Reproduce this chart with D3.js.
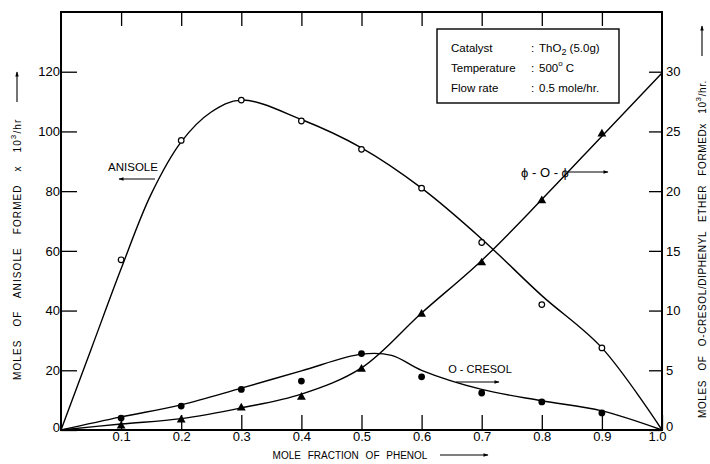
<!DOCTYPE html>
<html>
<head>
<meta charset="utf-8">
<script src="https://cdn.jsdelivr.net/npm/d3@7"></script>
<style>
  body { margin: 0; background: #fff; }
  svg { font-family: "Liberation Sans", Arial, sans-serif; }
</style>
</head>
<body>
<svg id="chart" width="710" height="464"></svg>
<script>
"use strict";

// mole fraction of phenol where points were measured
let fractions = [0.1, 0.2, 0.3, 0.4, 0.5, 0.6, 0.7, 0.8, 0.9];
// anisole (left axis, x10^3/hr)
let anisolePts = [57, 97, 110.5, 103.5, 94, 81, 62.8, 42, 27.5];
// o-cresol and diphenyl ether (right axis, x10^3/hr)
let cresolPts = [1.0, 2.0, 3.4, 4.1, 6.4, 4.45, 3.1, 2.35, 1.43];
let etherPts = [0.33, 0.85, 1.85, 2.75, 5.1, 9.7, 14.0, 19.2, 24.8];

// hand drawn smoothed curves
let anisoleFitX = [0, 0.05, 0.1, 0.15, 0.2, 0.25, 0.3, 0.4, 0.5, 0.6, 0.7, 0.8, 0.9, 1.0];
let anisoleFitY = [0, 27, 54, 79, 96.5, 106.5, 110.5, 104, 94.5, 81, 64, 45, 27.5, 0];
let cresolFitX = [0, 0.1, 0.2, 0.3, 0.4, 0.5, 0.55, 0.6, 0.7, 0.8, 0.9, 1.0];
let cresolFitY = [0, 1.1, 2.1, 3.5, 4.95, 6.35, 6.25, 5.0, 3.4, 2.45, 1.6, 0];
let etherFitX = [0, 0.1, 0.2, 0.3, 0.4, 0.5, 0.6, 0.7, 0.8, 0.9, 1.0];
let etherFitY = [0, 0.5, 0.95, 1.85, 3.0, 5.2, 9.8, 14.2, 19.3, 24.6, 29.9];

let xTicks = [0.1, 0.2, 0.3, 0.4, 0.5, 0.6, 0.7, 0.8, 0.9, 1.0];
let leftTicks = [0, 20, 40, 60, 80, 100, 120];
let rightTicks = [0, 5, 10, 15, 20, 25, 30];

let legendRows = [["Catalyst", ":", "ThO", "2", " (5.0g)"],
                  ["Temperature", ":", "500", "o", " C"],
                  ["Flow rate", ":", "0.5 mole/hr.", "", ""]];

let svg = d3.select("#chart");
let L = 61, R = 662, T = 12, B = 430;

let x = d3.scaleLinear().domain([0, 1]).range([L, R]);
let yL = d3.scaleLinear().domain([0, 140]).range([B, T]);
let yR = d3.scaleLinear().domain([0, 35]).range([B, T]);

svg.append("defs").append("marker")
  .attr("id", "ah").attr("viewBox", "0 0 10 10")
  .attr("refX", 9).attr("refY", 5)
  .attr("markerWidth", 7).attr("markerHeight", 5)
  .attr("markerUnits", "userSpaceOnUse")
  .attr("orient", "auto")
  .append("path").attr("d", "M0,1.5 L10,5 L0,8.5 Z").attr("fill", "#000");

// frame
svg.append("rect")
  .attr("x", L).attr("y", T).attr("width", R - L).attr("height", B - T)
  .attr("fill", "none").attr("stroke", "#000").attr("stroke-width", 2);

// axes, ticks pointing inward
let fontTick = 13;
let gBottom = svg.append("g").attr("transform", `translate(0,${B})`)
  .call(d3.axisBottom(x).tickValues(xTicks).tickSizeInner(-15).tickSizeOuter(0).tickPadding(2)
    .tickFormat(d => d3.format(".1f")(d)));
let gTop = svg.append("g").attr("transform", `translate(0,${T})`)
  .call(d3.axisTop(x).tickValues(xTicks.slice(0, 9)).tickSizeInner(-14).tickSizeOuter(0).tickFormat(""));
let gLeft = svg.append("g").attr("transform", `translate(${L},0)`)
  .call(d3.axisLeft(yL).tickValues(leftTicks).tickSizeInner(-16).tickSizeOuter(0).tickPadding(3));
let gRight = svg.append("g").attr("transform", `translate(${R},0)`)
  .call(d3.axisRight(yR).tickValues(rightTicks).tickSizeInner(-13).tickSizeOuter(0).tickPadding(4));

[gBottom, gTop, gLeft, gRight].forEach(g => {
  g.select(".domain").remove();
  g.selectAll("line").attr("stroke", "#000").attr("stroke-width", 1.3);
  g.selectAll("text").attr("font-size", fontTick).attr("fill", "#000")
    .attr("font-family", "Liberation Sans, Arial, sans-serif");
});
gLeft.selectAll("text").attr("dx", 2);
gLeft.selectAll(".tick").filter(d => d === 0).select("text").attr("dy", "0.1em");
gRight.selectAll(".tick").filter(d => d === 0).select("text").attr("dy", "0.05em");
gBottom.selectAll(".tick").filter(d => d === 1).select("text").attr("dx", -5);

// curves
let curve = d3.line().curve(d3.curveCatmullRom.alpha(0.5));
function drawFit(xs, ys, ys2) {
  svg.append("path")
    .attr("d", curve(xs.map((v, i) => [x(v), ys2(ys[i])])))
    .attr("fill", "none").attr("stroke", "#000").attr("stroke-width", 1.4);
}
drawFit(anisoleFitX, anisoleFitY, yL);
drawFit(cresolFitX, cresolFitY, yR);
drawFit(etherFitX, etherFitY, yR);

// markers
svg.append("g").selectAll("circle").data(fractions).join("circle")
  .attr("cx", d => x(d)).attr("cy", (d, i) => yL(anisolePts[i])).attr("r", 2.8)
  .attr("fill", "#fff").attr("stroke", "#000").attr("stroke-width", 1.2);
svg.append("g").selectAll("circle").data(fractions).join("circle")
  .attr("cx", d => x(d)).attr("cy", (d, i) => yR(cresolPts[i])).attr("r", 3.4)
  .attr("fill", "#000");
let tri = d3.symbol().type(d3.symbolTriangle).size(34);
svg.append("g").selectAll("path").data(fractions).join("path")
  .attr("d", tri)
  .attr("transform", (d, i) => `translate(${x(d)},${yR(etherPts[i])})`)
  .attr("fill", "#000");

// series annotations
function note(txt, tx, ty, x1, y1, x2, y2, size) {
  svg.append("text").attr("x", tx).attr("y", ty).attr("font-size", size || 11)
    .attr("text-anchor", "middle").text(txt);
  svg.append("line").attr("x1", x1).attr("y1", y1).attr("x2", x2).attr("y2", y2)
    .attr("stroke", "#000").attr("stroke-width", 1.2).attr("marker-end", "url(#ah)");
}
note("ANISOLE", 133, 171, 155, 179, 119, 179, 11.5);
note("\u03d5 - O - \u03d5", 545, 177, 568, 172, 608, 172, 13);
note("O - CRESOL", 480, 373, 456, 382, 499, 382, 11);

// legend box
svg.append("rect").attr("x", 437).attr("y", 29).attr("width", 182).attr("height", 74)
  .attr("fill", "#fff").attr("stroke", "#000").attr("stroke-width", 1.4);
legendRows.forEach((r, i) => {
  let yy = 52 + i * 20;
  svg.append("text").attr("x", 451).attr("y", yy).attr("font-size", 11.5).text(r[0]);
  svg.append("text").attr("x", 531).attr("y", yy).attr("font-size", 11.5).text(r[1]);
  let t = svg.append("text").attr("x", 539).attr("y", yy).attr("font-size", 11.5);
  t.append("tspan").text(r[2]);
  if (r[3] === "2") t.append("tspan").attr("dy", 3).attr("font-size", 9).text(r[3]);
  if (r[3] === "o") t.append("tspan").attr("dy", -6).attr("font-size", 8).text(r[3]);
  if (r[4]) t.append("tspan").attr("dy", r[3] === "2" ? -3 : 6).text(r[4]);
});

// axis titles
svg.append("text").attr("x", 350).attr("y", 459).attr("font-size", 10)
  .attr("text-anchor", "middle").attr("word-spacing", 4).text("MOLE FRACTION OF PHENOL");
svg.append("line").attr("x1", 440).attr("y1", 455).attr("x2", 488).attr("y2", 455)
  .attr("stroke", "#000").attr("stroke-width", 1.1).attr("marker-end", "url(#ah)");

let yt = svg.append("text").attr("transform", "translate(21,380) rotate(-90)")
  .attr("font-size", 10).attr("letter-spacing", 1.1).attr("word-spacing", 9);
yt.append("tspan").text("MOLES OF ANISOLE FORMED x 10");
yt.append("tspan").attr("dy", -5).attr("font-size", 8).text("3");
yt.append("tspan").attr("dy", 5).text("/hr");
svg.append("line").attr("x1", 17).attr("y1", 102).attr("x2", 17).attr("y2", 72)
  .attr("stroke", "#000").attr("stroke-width", 1.1).attr("marker-end", "url(#ah)");

let yt2 = svg.append("text").attr("transform", "translate(706,418) rotate(-90)")
  .attr("font-size", 10).attr("letter-spacing", 0.6).attr("word-spacing", 6);
yt2.append("tspan").text("MOLES OF O-CRESOL/DIPHENYL ETHER FORMEDx 10");
yt2.append("tspan").attr("dy", -5).attr("font-size", 8).text("3");
yt2.append("tspan").attr("dy", 5).text("/hr.");
svg.append("line").attr("x1", 702).attr("y1", 56).attr("x2", 702).attr("y2", 26)
  .attr("stroke", "#000").attr("stroke-width", 1.1).attr("marker-end", "url(#ah)");
</script>
</body>
</html>
